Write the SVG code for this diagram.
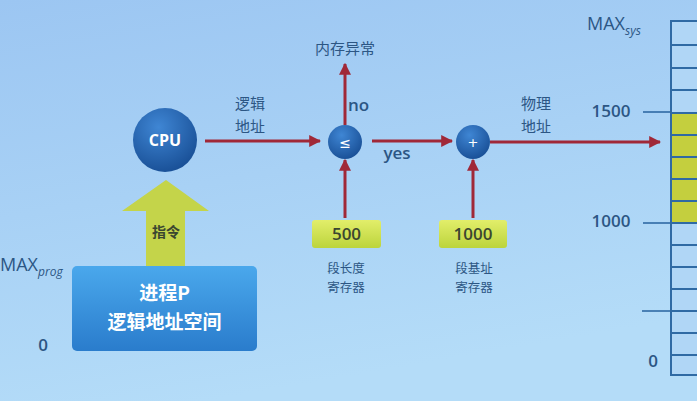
<svg xmlns="http://www.w3.org/2000/svg" width="697" height="401" viewBox="0 0 697 401">
  <style>
    .lbl { font-family: "Noto Sans CJK SC", "Noto Sans", sans-serif; fill: #2c5684; font-size: 15px; }
    .sm { font-size: 12.5px; }
    .num { font-family: "Open Sans", "Noto Sans", sans-serif; fill: #2c5684; font-size: 17px; font-weight: 600; }
    .wire { stroke: #a02838; stroke-width: 3; fill: none; }
    .grid { stroke: #2f6aa4; stroke-width: 2; }
    .tick { stroke: #2f6aa4; stroke-width: 1.6; }
  </style>
  <defs>
    <linearGradient id="bg" x1="0" y1="0" x2="0.3" y2="1">
      <stop offset="0" stop-color="#9cc6f2"/>
      <stop offset="1" stop-color="#b4dcf8"/>
    </linearGradient>
    <radialGradient id="ball" cx="0.4" cy="0.3" r="0.8">
      <stop offset="0" stop-color="#3f86d4"/>
      <stop offset="1" stop-color="#154a90"/>
    </radialGradient>
    <linearGradient id="reg" x1="0" y1="0" x2="0" y2="1">
      <stop offset="0" stop-color="#e2ee6a"/>
      <stop offset="1" stop-color="#bcd43c"/>
    </linearGradient>
    <linearGradient id="proc" x1="0" y1="0" x2="0" y2="1">
      <stop offset="0" stop-color="#4aa8ec"/>
      <stop offset="1" stop-color="#2a7ccc"/>
    </linearGradient>
    <marker id="head" viewBox="0 0 10 10" refX="9" refY="5" markerWidth="4" markerHeight="4" orient="auto">
      <path d="M0,0 L10,5 L0,10 z" fill="#a02838"/>
    </marker>
  </defs>

  <rect width="697" height="401" fill="url(#bg)"/>

  <!-- connectors -->
  <g id="connectors">
    <line class="wire" x1="205" y1="141" x2="320" y2="141" marker-end="url(#head)"/>
    <line class="wire" x1="372" y1="141" x2="452" y2="141" marker-end="url(#head)"/>
    <line class="wire" x1="345" y1="125" x2="345" y2="64" marker-end="url(#head)"/>
    <line class="wire" x1="345" y1="218" x2="345" y2="160" marker-end="url(#head)"/>
    <line class="wire" x1="473" y1="218" x2="473" y2="160" marker-end="url(#head)"/>
    <line class="wire" x1="490" y1="142" x2="660" y2="142" marker-end="url(#head)"/>
    <text class="lbl" x="250" y="109" text-anchor="middle">逻辑</text>
    <text class="lbl" x="250" y="132" text-anchor="middle">地址</text>
    <text class="lbl" x="536" y="109" text-anchor="middle">物理</text>
    <text class="lbl" x="536" y="132" text-anchor="middle">地址</text>
    <text class="num" x="348" y="111">no</text>
    <text class="num" x="397" y="159" text-anchor="middle">yes</text>
  </g>

  <!-- CPU -->
  <g id="cpu">
    <circle cx="165" cy="140" r="32" fill="url(#ball)"/>
    <text x="165" y="146" text-anchor="middle" font-family="'Open Sans', sans-serif" font-weight="700" font-size="16" fill="#ffffff">CPU</text>
  </g>

  <!-- comparator -->
  <g id="compare">
    <circle cx="345" cy="142" r="17" fill="url(#ball)"/>
    <text x="345" y="148" text-anchor="middle" font-family="'DejaVu Sans', sans-serif" font-size="14" fill="#ffffff">≤</text>
  </g>

  <!-- adder -->
  <g id="adder">
    <circle cx="473" cy="142" r="17" fill="url(#ball)"/>
    <text x="473" y="147" text-anchor="middle" font-family="'DejaVu Sans', sans-serif" font-size="13" fill="#ffffff">+</text>
  </g>

  <!-- exception -->
  <g id="fault">
    <text class="lbl" x="345" y="54" text-anchor="middle">内存异常</text>
  </g>

  <!-- limit register -->
  <g id="limit">
    <rect x="312" y="220" width="69" height="28" rx="3" fill="url(#reg)"/>
    <text class="num" x="346.5" y="240" text-anchor="middle" style="fill:#3b4630">500</text>
    <text class="lbl sm" x="346" y="273" text-anchor="middle">段长度</text>
    <text class="lbl sm" x="346" y="292" text-anchor="middle">寄存器</text>
  </g>

  <!-- base register -->
  <g id="base">
    <rect x="439" y="220" width="68" height="28" rx="3" fill="url(#reg)"/>
    <text class="num" x="473" y="240" text-anchor="middle" style="fill:#3b4630">1000</text>
    <text class="lbl sm" x="474" y="273" text-anchor="middle">段基址</text>
    <text class="lbl sm" x="474" y="292" text-anchor="middle">寄存器</text>
  </g>

  <!-- instruction fetch arrow -->
  <g id="fetch">
    <path d="M146,266 L146,211 L122,211 L166,180 L209,211 L185,211 L185,266 z" fill="#c4d44a"/>
    <text x="166" y="237" text-anchor="middle" font-family="'Noto Sans CJK SC', sans-serif" font-weight="700" font-size="14" fill="#3b4630">指令</text>
  </g>

  <!-- process logical space -->
  <g id="process">
    <rect x="72" y="266" width="185" height="85" rx="5" fill="url(#proc)"/>
    <text x="164.5" y="300" text-anchor="middle" font-family="'Noto Sans CJK SC', sans-serif" font-weight="700" font-size="19" fill="#ffffff">进程P</text>
    <text x="164.5" y="329" text-anchor="middle" font-family="'Noto Sans CJK SC', sans-serif" font-weight="700" font-size="19" fill="#ffffff">逻辑地址空间</text>
    <text class="num" x="0" y="271" style="font-weight:500;font-size:18px">MAX<tspan font-size="12" font-style="italic" dy="5">prog</tspan></text>
    <text class="num" x="43" y="351" text-anchor="middle">0</text>
  </g>

  <!-- physical memory -->
  <g id="memory">
    <rect x="671" y="21" width="30" height="354" fill="#b0d6f6"/>
    <rect x="671" y="113" width="30" height="110" fill="#c4cf3e"/>
    <line class="grid" x1="671" y1="20" x2="671" y2="376"/>
    <g class="grid">
      <line x1="671" y1="21" x2="697" y2="21"/>
      <line x1="671" y1="45" x2="697" y2="45"/>
      <line x1="671" y1="68" x2="697" y2="68"/>
      <line x1="671" y1="90" x2="697" y2="90"/>
      <line x1="671" y1="113" x2="697" y2="113"/>
      <line x1="671" y1="135" x2="697" y2="135"/>
      <line x1="671" y1="157" x2="697" y2="157"/>
      <line x1="671" y1="179" x2="697" y2="179"/>
      <line x1="671" y1="201" x2="697" y2="201"/>
      <line x1="671" y1="223" x2="697" y2="223"/>
      <line x1="671" y1="245" x2="697" y2="245"/>
      <line x1="671" y1="267" x2="697" y2="267"/>
      <line x1="671" y1="289" x2="697" y2="289"/>
      <line x1="671" y1="311" x2="697" y2="311"/>
      <line x1="671" y1="333" x2="697" y2="333"/>
      <line x1="671" y1="355" x2="697" y2="355"/>
      <line x1="671" y1="375" x2="697" y2="375"/>
    </g>
    <line class="tick" x1="643" y1="112" x2="671" y2="112"/>
    <line class="tick" x1="643" y1="223" x2="671" y2="223"/>
    <line class="tick" x1="642" y1="311" x2="671" y2="311"/>
    <text class="num" x="611" y="117" text-anchor="middle">1500</text>
    <text class="num" x="611" y="227" text-anchor="middle">1000</text>
    <text class="num" x="653" y="367" text-anchor="middle">0</text>
    <text class="num" x="587" y="30" style="font-weight:500;font-size:18px">MAX<tspan font-size="12" font-style="italic" dy="5">sys</tspan></text>
  </g>
</svg>
